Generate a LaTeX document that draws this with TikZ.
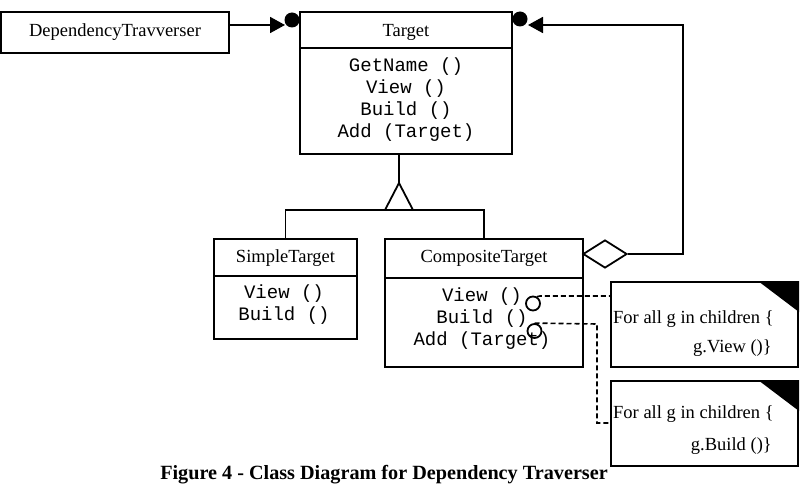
\documentclass[tikz,border=0pt]{standalone}
\usepackage{fontspec}
\setmainfont{Liberation Serif}
\setmonofont{Liberation Mono}
\usetikzlibrary{arrows.meta,shapes.geometric}
\begin{document}
\begin{tikzpicture}[x=1pt,y=-1pt,
  box/.style={draw,line width=1.8pt,inner sep=0pt,rectangle},
  serif/.style={font=\fontsize{18.5}{22}\selectfont,inner sep=0pt},
  mono/.style={font=\ttfamily\fontsize{19}{22}\selectfont,align=center,inner sep=0pt},
  conn/.style={line width=1.8pt},
  tip/.style={-{Triangle[length=15pt,width=16pt]}},
  dot/.style={circle,fill=black,minimum size=15pt,inner sep=0pt},
  lolli/.style={circle,draw,line width=1.8pt,minimum size=14pt,inner sep=0pt},
  dashy/.style={line width=1.6pt,dash pattern=on 5pt off 3pt},
  notebox/.style={draw,line width=2pt,minimum width=187pt,minimum height=85pt,inner sep=0pt}
]
\useasboundingbox (0,0) rectangle (804,484);
\clip (0,0) rectangle (804,484);

% DependencyTravverser
\node[box,minimum width=228pt,minimum height=41pt] (dt) at (115,32.5) {};
\node[serif] (dtl) at (dt.center) {DependencyTravverser};

% Target
\node[box,minimum width=212pt,minimum height=142pt] (tgt) at (406,83) {};
\coordinate (th) at (406,48);
\draw[conn] (tgt.west |- th) -- (tgt.east |- th);
\node[serif] (tgtl) at (406,32) {Target};
\node[mono] (tgtm) at (406,100) {GetName ()\\View ()\\Build ()\\Add (Target)};
\node[dot] (c1) at (292,20) {};
\node[dot] (c2) at (520,19) {};

% SimpleTarget
\node[box,minimum width=143pt,minimum height=100pt] (simp) at (285.5,289) {};
\coordinate (sh) at (285.5,276);
\draw[conn] (simp.west |- sh) -- (simp.east |- sh);
\node[serif] (simpl) at (285.5,258) {SimpleTarget};
\node[mono] (simpm) at (284,305) {View ()\\Build ()};

% CompositeTarget
\node[box,minimum width=198pt,minimum height=128pt] (comp) at (484,303) {};
\coordinate (ch) at (484,278);
\draw[conn] (comp.west |- ch) -- (comp.east |- ch);
\node[serif] (compl) at (484,258) {CompositeTarget};
\node[mono] (compm) at (482,319) {View ()\\Build ()\\Add (Target)};
\node[lolli] (l1) at (533,303.5) {};
\node[lolli] (l2) at (534.5,331) {};

% Inheritance
\coordinate (apex) at (399,183);
\coordinate (tribase) at (399,210);
\draw[conn] (tgt.south -| apex) -- (apex);
\draw[conn,line join=miter] (apex) -- (385,210) -- (413,210) -- cycle;
\draw[conn] (simp.north) |- (tribase) -| (comp.north);

% DependencyTravverser -> Target
\coordinate (a1) at (285,25);
\draw[conn,tip] (dt.east |- a1) -- (a1);

% Aggregation
\node[diamond,draw,line width=1.8pt,minimum width=44pt,minimum height=28pt,inner sep=0pt] (dia) at (605,254) {};
\coordinate (a2) at (528,25);
\coordinate (rc) at (683,25);
\draw[conn,tip] (dia.east) -| (rc) -- (a2);

% Notes
\node[notebox] (n1) at (704.5,324.5) {};
\fill (n1.north east) -- ++(-41,0) -- ++(41,31) -- cycle;
\node[serif,anchor=west] (n1a) at (613,319) {For all g in children \{};
\node[serif,anchor=east] (n1b) at (772,348) {g.View ()\}};

\node[notebox] (n2) at (704.5,423.5) {};
\fill (n2.north east) -- ++(-41,0) -- ++(41,31) -- cycle;
\node[serif,anchor=west] (n2a) at (613,414) {For all g in children \{};
\node[serif,anchor=east] (n2b) at (772,446) {g.Build ()\}};

% Dashed connectors
\coordinate (d1) at (540,296);
\draw[dashy] (l1.60) -- (d1) -- (n1.west |- d1);
\coordinate (d2) at (597,324);
\coordinate (d3) at (597,423);
\draw[dashy] (l2.north) -- (d2) -- (d3) -- (n2.west |- d3);

% Caption
\node[font=\bfseries\fontsize{20.2}{24}\selectfont,anchor=base,inner sep=0pt] (cap) at (384,479) {Figure 4 - Class Diagram for Dependency Traverser};
\end{tikzpicture}
\end{document}
